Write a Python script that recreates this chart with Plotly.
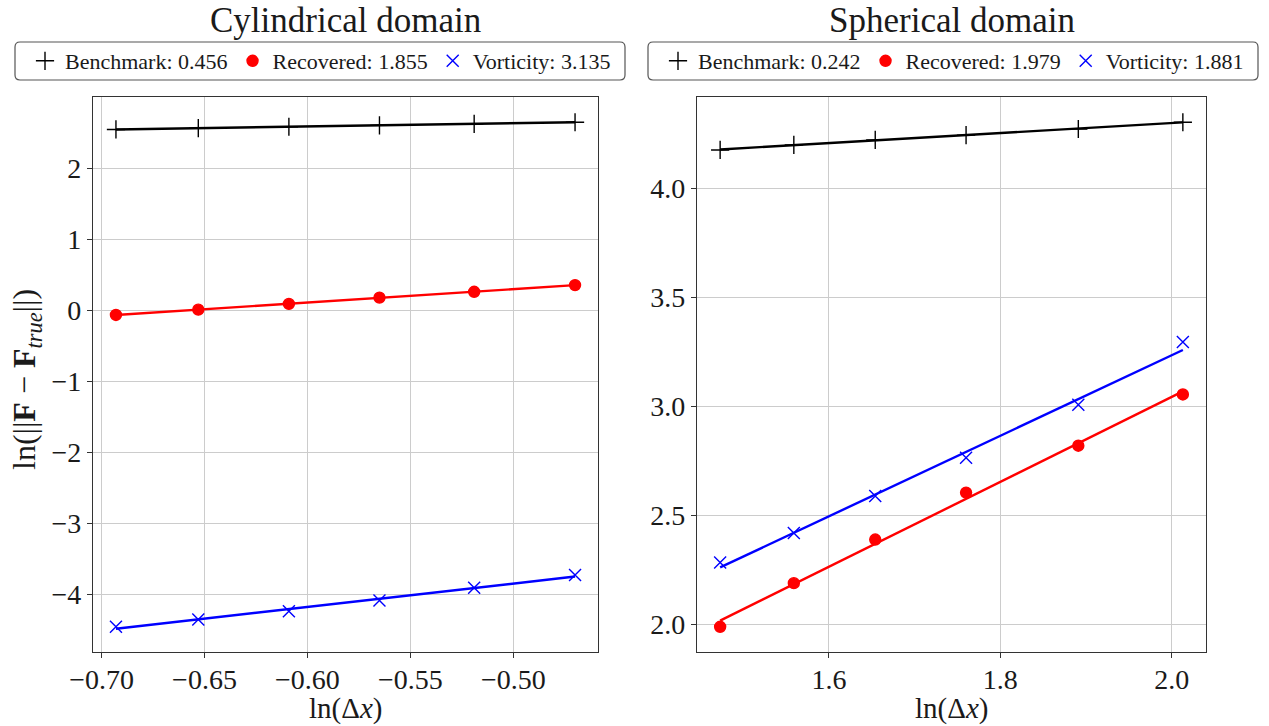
import numpy as np
import plotly.graph_objects as go

# ---------------- data ----------------
cyl_x = [-0.693, -0.653, -0.609, -0.565, -0.519, -0.470]
cyl_bench = [2.550, 2.568, 2.588, 2.608, 2.630, 2.652]
cyl_recov = [-0.065, 0.010, 0.091, 0.180, 0.262, 0.356]
cyl_vort = [-4.46, -4.356, -4.24, -4.09, -3.91, -3.73]

sph_x = [1.473, 1.559, 1.654, 1.760, 1.891, 2.013]
sph_bench = [4.176, 4.199, 4.222, 4.244, 4.272, 4.303]
sph_recov = [1.990, 2.190, 2.390, 2.605, 2.820, 3.055]
sph_vort = [2.285, 2.420, 2.590, 2.765, 3.008, 3.295]

cyl_labels = ["Benchmark: 0.456", "Recovered: 1.855", "Vorticity: 3.135"]
sph_labels = ["Benchmark: 0.242", "Recovered: 1.979", "Vorticity: 1.881"]

titles = ["Cylindrical domain", "Spherical domain"]
x_title = "ln(Δ<i>x</i>)"
y_title = "ln(||<b>F</b> − <b>F</b><sub><i>true</i></sub>||)"

cyl_xticks = [-0.70, -0.65, -0.60, -0.55, -0.50]
cyl_yticks = [-4, -3, -2, -1, 0, 1, 2]
sph_xticks = [1.6, 1.8, 2.0]
sph_yticks = [2.0, 2.5, 3.0, 3.5, 4.0]

# ---------------- styles ----------------
FONT = "Liberation Serif"
TXT = "#1a1a1a"
colors = ["#000000", "#ff0000", "#0000ff"]
symbols = ["cross-thin", "circle", "x-thin"]
msizes = [13, 11, 12]

W, H = 1269, 726
fig = go.Figure()

def add_panel(xs, series, labels, xa, ya, legend):
    for s, lab, c, sym, ms in zip(series, labels, colors, symbols, msizes):
        coef = np.polyfit(xs, s, 1)
        fit = np.polyval(coef, xs)
        fig.add_trace(go.Scatter(x=xs, y=fit, mode="lines", line=dict(color=c, width=2.4),
                                 xaxis=xa, yaxis=ya, showlegend=False, hoverinfo="skip"))
        fig.add_trace(go.Scatter(x=xs, y=s, mode="markers", name=lab,
                                 marker=dict(symbol=sym, size=ms, color=c,
                                             line=dict(color=c, width=1.4)),
                                 xaxis=xa, yaxis=ya, legend=legend))

add_panel(cyl_x, [cyl_bench, cyl_recov, cyl_vort], cyl_labels, "x", "y", "legend")
add_panel(sph_x, [sph_bench, sph_recov, sph_vort], sph_labels, "x2", "y2", "legend2")

ydom = [1 - 652 / H, 1 - 97 / H]

def rng(vals):
    lo, hi = min(vals), max(vals)
    pad = 0.05 * (hi - lo)
    return [lo - pad, hi + pad]

axis_common = dict(showgrid=True, gridcolor="#cccccc", gridwidth=1, showline=True,
                   linecolor="#333333", linewidth=1.2, mirror=True, ticks="outside",
                   ticklen=5, tickcolor="#333333", zeroline=False, automargin=False,
                   tickfont=dict(family=FONT, size=28, color=TXT))

def rounded_box(x0, y0, x1, y1, r=5):
    # pixel coords (top-left origin) -> paper path
    def px(x):
        return x / W
    def py(y):
        return 1 - y / H
    return ("M {a},{b} L {c},{b} Q {d},{b} {d},{e} L {d},{f} Q {d},{g} {c},{g} "
            "L {a},{g} Q {h},{g} {h},{f} L {h},{e} Q {h},{b} {a},{b} Z").format(
        a=px(x0 + r), b=py(y0), c=px(x1 - r), d=px(x1), e=py(y0 + r),
        f=py(y1 - r), g=py(y1), h=px(x0))

legend_common = dict(orientation="h", yanchor="middle", xanchor="left",
                     xref="paper", yref="paper", y=1 - 61 / H,
                     bgcolor="rgba(0,0,0,0)", borderwidth=0,
                     font=dict(family=FONT, size=22, color=TXT))

xtitle_font = dict(family=FONT, size=29, color=TXT)

fig.update_layout(
    width=W, height=H,
    margin=dict(l=0, r=0, t=0, b=0, autoexpand=False),
    plot_bgcolor="white", paper_bgcolor="white",
    font=dict(family=FONT, color=TXT),
    xaxis=dict(domain=[93 / W, 598 / W], anchor="y", range=rng(cyl_x),
               tickvals=cyl_xticks, tickformat=".2f", ticklabelstandoff=-3,
               **axis_common),
    yaxis=dict(domain=ydom, anchor="x",
               range=rng(cyl_bench + cyl_recov + cyl_vort), tickvals=cyl_yticks,
               **axis_common),
    xaxis2=dict(domain=[697 / W, 1206 / W], anchor="y2", range=rng(sph_x),
                tickvals=sph_xticks, tickformat=".1f", ticklabelstandoff=-3,
                **axis_common),
    yaxis2=dict(domain=ydom, anchor="x2",
                range=rng(sph_bench + sph_recov + sph_vort), tickvals=sph_yticks,
                tickformat=".1f", **axis_common),
    legend=dict(x=25 / W, **legend_common),
    legend2=dict(x=658 / W, **legend_common),
    shapes=[
        dict(type="path", xref="paper", yref="paper", path=rounded_box(15, 42, 625, 80),
             line=dict(color="#555555", width=1.2), fillcolor="white", layer="below"),
        dict(type="path", xref="paper", yref="paper", path=rounded_box(648, 42, 1258, 80),
             line=dict(color="#555555", width=1.2), fillcolor="white", layer="below"),
    ],
    annotations=[
        dict(text=titles[0], x=(93 + 598) / 2 / W, y=1 - 20 / H, xref="paper", yref="paper",
             showarrow=False, font=dict(family=FONT, size=35, color=TXT),
             xanchor="center", yanchor="middle"),
        dict(text=titles[1], x=(697 + 1206) / 2 / W, y=1 - 20 / H, xref="paper", yref="paper",
             showarrow=False, font=dict(family=FONT, size=35, color=TXT),
             xanchor="center", yanchor="middle"),
        dict(text=y_title, x=27 / W, y=1 - 380 / H, xref="paper", yref="paper",
             showarrow=False, textangle=-90, font=dict(family=FONT, size=32, color=TXT),
             xanchor="center", yanchor="middle"),
        dict(text=x_title, x=(93 + 598) / 2 / W, y=1 - 708 / H, xref="paper", yref="paper",
             showarrow=False, font=xtitle_font, xanchor="center", yanchor="middle"),
        dict(text=x_title, x=(697 + 1206) / 2 / W, y=1 - 708 / H, xref="paper", yref="paper",
             showarrow=False, font=xtitle_font, xanchor="center", yanchor="middle"),
    ],
)

fig.write_html("out.html", config={"displayModeBar": False},
               post_script="document.body.style.margin='0';document.body.style.padding='0';")
